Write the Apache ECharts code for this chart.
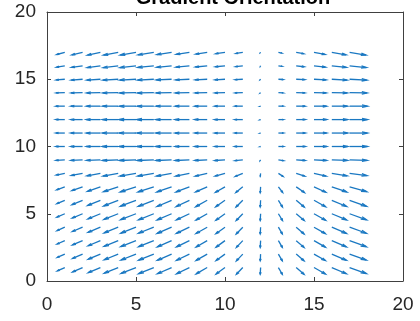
<!DOCTYPE html>
<html>
<head>
<meta charset="utf-8">
<script src="https://cdn.jsdelivr.net/npm/echarts@6/dist/echarts.min.js"></script>
<style>
  html, body { margin: 0; padding: 0; background: #fff; }
  #main { width: 420px; height: 321px; }
</style>
</head>
<body>
<div id="main"></div>
<script>
// grid positions of the arrows
var xVals = [1, 2, 3, 4, 5, 6, 7, 8, 9, 10, 11, 12, 13, 14, 15, 16, 17];
var yVals = [17, 16, 15, 14, 13, 12, 11, 10, 9, 8, 7, 6, 5, 4, 3, 2, 1];
var tickLabels = [0, 5, 10, 15, 20];

// horizontal component, one row per y (top to bottom)
var U = [
  [-0.45,-0.60,-0.72,-0.82,-0.88,-0.88,-0.82,-0.74,-0.64,-0.52,-0.38,-0.02,0.18,0.42,0.62,0.80,0.92],
  [-0.46,-0.62,-0.74,-0.84,-0.90,-0.90,-0.84,-0.76,-0.66,-0.54,-0.40,-0.02,0.20,0.44,0.64,0.82,0.94],
  [-0.48,-0.64,-0.76,-0.86,-0.91,-0.91,-0.86,-0.78,-0.68,-0.56,-0.43,-0.03,0.26,0.48,0.68,0.86,0.97],
  [-0.49,-0.65,-0.77,-0.87,-0.92,-0.92,-0.87,-0.79,-0.69,-0.57,-0.44,-0.03,0.27,0.49,0.69,0.87,0.98],
  [-0.50,-0.66,-0.78,-0.88,-0.93,-0.93,-0.88,-0.80,-0.70,-0.58,-0.45,-0.03,0.28,0.50,0.70,0.88,1.00],
  [-0.50,-0.66,-0.79,-0.89,-0.95,-0.95,-0.89,-0.81,-0.70,-0.58,-0.45,-0.03,0.28,0.51,0.71,0.89,1.00],
  [-0.50,-0.66,-0.79,-0.89,-0.95,-0.95,-0.89,-0.81,-0.70,-0.58,-0.45,-0.03,0.28,0.51,0.71,0.89,1.00],
  [-0.50,-0.66,-0.79,-0.89,-0.95,-0.95,-0.89,-0.81,-0.70,-0.58,-0.45,-0.03,0.28,0.51,0.71,0.89,1.00],
  [-0.49,-0.65,-0.78,-0.88,-0.93,-0.93,-0.88,-0.80,-0.69,-0.57,-0.44,-0.03,0.28,0.50,0.70,0.88,0.99],
  [-0.47,-0.63,-0.75,-0.85,-0.90,-0.90,-0.85,-0.77,-0.67,-0.55,-0.42,-0.02,0.26,0.48,0.68,0.86,0.97],
  [-0.45,-0.60,-0.72,-0.82,-0.88,-0.88,-0.83,-0.75,-0.65,-0.53,-0.39,-0.02,0.24,0.46,0.66,0.84,0.96],
  [-0.44,-0.59,-0.71,-0.81,-0.87,-0.87,-0.82,-0.74,-0.64,-0.52,-0.38,-0.02,0.23,0.45,0.65,0.83,0.95],
  [-0.44,-0.58,-0.70,-0.80,-0.86,-0.86,-0.81,-0.73,-0.63,-0.51,-0.37,-0.02,0.23,0.45,0.65,0.83,0.95],
  [-0.43,-0.57,-0.69,-0.79,-0.85,-0.86,-0.81,-0.73,-0.63,-0.51,-0.37,-0.02,0.22,0.44,0.64,0.82,0.94],
  [-0.43,-0.57,-0.69,-0.79,-0.85,-0.85,-0.80,-0.72,-0.62,-0.50,-0.36,-0.02,0.22,0.44,0.64,0.82,0.94],
  [-0.42,-0.56,-0.68,-0.78,-0.84,-0.85,-0.80,-0.72,-0.62,-0.50,-0.36,-0.02,0.22,0.44,0.64,0.82,0.94],
  [-0.42,-0.56,-0.68,-0.78,-0.84,-0.85,-0.80,-0.72,-0.62,-0.50,-0.36,-0.02,0.22,0.44,0.64,0.82,0.94]
];

// vertical component, same layout
var V = [
  [-0.16,-0.18,-0.20,-0.20,-0.20,-0.18,-0.17,-0.15,-0.13,-0.10,-0.08,-0.03,-0.05,-0.10,-0.15,-0.18,-0.20],
  [-0.10,-0.12,-0.13,-0.13,-0.13,-0.12,-0.11,-0.10,-0.09,-0.07,-0.06,-0.06,-0.04,-0.07,-0.10,-0.12,-0.13],
  [-0.05,-0.06,-0.06,-0.06,-0.06,-0.06,-0.05,-0.05,-0.04,-0.04,-0.03,-0.04,-0.02,-0.03,-0.05,-0.06,-0.06],
  [-0.02,-0.02,-0.02,-0.02,-0.02,-0.02,-0.02,-0.02,-0.02,-0.02,-0.02,-0.03,-0.02,-0.02,-0.02,-0.02,-0.02],
  [0, 0, 0, 0, 0, 0, 0, 0, 0, 0, 0, -0.01, 0, 0, 0, 0, 0],
  [0, 0, 0, 0, 0, 0, 0, 0, 0, 0, 0, -0.01, 0, 0, 0, 0, 0],
  [0, 0, 0, 0, 0, 0, 0, 0, 0, 0, 0, -0.01, 0, 0, 0, 0, 0],
  [0, 0, 0, 0, 0, 0, 0, 0, 0, 0, 0, -0.01, 0, 0, 0, 0, 0],
  [-0.03,-0.03,-0.03,-0.04,-0.04,-0.04,-0.04,-0.04,-0.04,-0.04,-0.05,-0.06,-0.05,-0.04,-0.04,-0.03,-0.03],
  [-0.12,-0.15,-0.18,-0.20,-0.20,-0.20,-0.20,-0.20,-0.20,-0.20,-0.22,-0.22,-0.22,-0.20,-0.20,-0.18,-0.16],
  [-0.22,-0.28,-0.33,-0.36,-0.38,-0.38,-0.38,-0.38,-0.38,-0.40,-0.42,-0.44,-0.42,-0.42,-0.40,-0.38,-0.36],
  [-0.25,-0.32,-0.38,-0.42,-0.44,-0.45,-0.46,-0.46,-0.47,-0.48,-0.50,-0.50,-0.50,-0.50,-0.48,-0.46,-0.45],
  [-0.25,-0.32,-0.38,-0.42,-0.44,-0.45,-0.46,-0.46,-0.47,-0.48,-0.50,-0.50,-0.50,-0.50,-0.48,-0.46,-0.45],
  [-0.25,-0.32,-0.38,-0.42,-0.44,-0.45,-0.46,-0.46,-0.47,-0.48,-0.50,-0.50,-0.50,-0.50,-0.48,-0.46,-0.45],
  [-0.25,-0.32,-0.38,-0.42,-0.44,-0.45,-0.46,-0.46,-0.47,-0.48,-0.50,-0.50,-0.50,-0.50,-0.48,-0.46,-0.45],
  [-0.25,-0.32,-0.38,-0.42,-0.44,-0.45,-0.46,-0.46,-0.47,-0.48,-0.50,-0.50,-0.50,-0.50,-0.48,-0.46,-0.45],
  [-0.25,-0.32,-0.38,-0.42,-0.44,-0.45,-0.46,-0.46,-0.47,-0.48,-0.50,-0.50,-0.50,-0.50,-0.48,-0.46,-0.45]
];

var arrows = [];
for (var r = 0; r < yVals.length; r++) {
    for (var c = 0; c < xVals.length; c++) {
        arrows.push([xVals[c], yVals[r], U[r][c], V[r][c]]);
    }
}

var myChart = echarts.init(document.getElementById('main'));
var axisColor = '#404040';
var labelStyle = {
    color: '#262626',
    fontSize: 19,
    fontFamily: 'Liberation Sans'
};

function renderArrow(params, api) {
    var x = api.value(0), y = api.value(1), u = api.value(2), v = api.value(3);
    var a = 0.3, b = 0.3; // head length / width like matlab quiver
    var p0 = api.coord([x, y]);
    var p1 = api.coord([x + u, y + v]);
    var h1 = api.coord([x + u - a * (u + b * v), y + v - a * (v - b * u)]);
    var h2 = api.coord([x + u - a * (u - b * v), y + v - a * (v + b * u)]);
    var st = { stroke: '#1a78c2', lineWidth: 1.3, fill: null };
    return {
        type: 'group',
        children: [
            { type: 'polyline', shape: { points: [p0, p1] }, style: st },
            { type: 'polyline', shape: { points: [h1, p1, h2] }, style: st }
        ]
    };
}

var option = {
    backgroundColor: '#fff',
    animation: false,
    title: {
        text: 'Gradient Orientation',
        left: 228,
        top: -17,
        textAlign: 'center',
        textStyle: {
            color: '#000',
            fontSize: 20,
            fontWeight: 'bold',
            fontFamily: 'Liberation Sans'
        }
    },
    grid: {
        left: 47,
        right: 17,
        top: 12,
        bottom: 40
    },
    xAxis: [{
        type: 'value',
        min: 0,
        max: 20,
        interval: 5,
        axisLine: { show: true, onZero: false, lineStyle: { color: axisColor, width: 1 } },
        axisTick: { show: true, inside: true, length: 4, lineStyle: { color: axisColor } },
        axisLabel: Object.assign({ margin: 14, formatter: function (val) {
            return tickLabels.indexOf(val) >= 0 ? String(val) : '';
        } }, labelStyle),
        splitLine: { show: false }
    }, {
        type: 'value',
        position: 'top',
        min: 0,
        max: 20,
        interval: 5,
        axisLine: { show: true, onZero: false, lineStyle: { color: axisColor, width: 1 } },
        axisTick: { show: true, inside: true, length: 4, lineStyle: { color: axisColor } },
        axisLabel: { show: false },
        splitLine: { show: false }
    }],
    yAxis: [{
        type: 'value',
        min: 0,
        max: 20,
        interval: 5,
        axisLine: { show: true, onZero: false, lineStyle: { color: axisColor, width: 1 } },
        axisTick: { show: true, inside: true, length: 4, lineStyle: { color: axisColor } },
        axisLabel: Object.assign({ margin: 11 }, labelStyle),
        splitLine: { show: false }
    }, {
        type: 'value',
        position: 'right',
        min: 0,
        max: 20,
        interval: 5,
        axisLine: { show: true, onZero: false, lineStyle: { color: axisColor, width: 1 } },
        axisTick: { show: true, inside: true, length: 4, lineStyle: { color: axisColor } },
        axisLabel: { show: false },
        splitLine: { show: false }
    }],
    series: [{
        type: 'custom',
        xAxisIndex: 0,
        yAxisIndex: 0,
        renderItem: renderArrow,
        data: arrows
    }]
};
myChart.setOption(option);
window.addEventListener("resize", function () {
    myChart.resize();
});
</script>
</body>
</html>
